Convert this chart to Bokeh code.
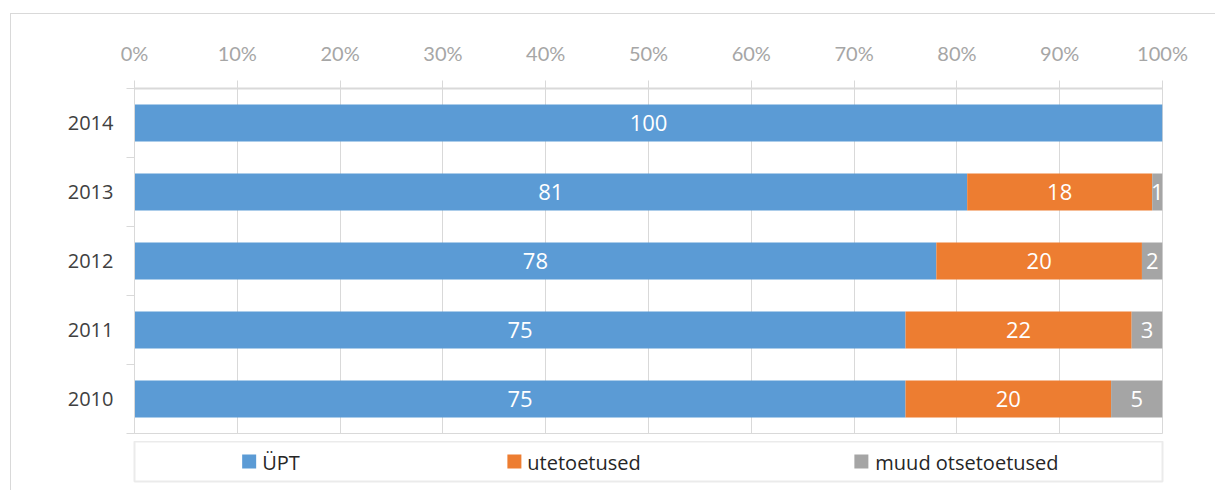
from bokeh.plotting import figure
from bokeh.layouts import column
from bokeh.models import (Range1d, FixedTicker, PrintfTickFormatter, ColumnDataSource)
from bokeh.core.properties import value
from bokeh.embed import file_html
from bokeh.resources import INLINE

# ---- data ----
years = ["2010", "2011", "2012", "2013", "2014"]
upt = [75, 75, 78, 81, 100]          # ÜPT
ute = [20, 22, 20, 18, 0]            # utetoetused
muud = [5, 3, 2, 1, 0]               # muud otsetoetused
series_names = ["ÜPT", "utetoetused", "muud otsetoetused"]
series_colors = ["#5B9BD5", "#ED7D31", "#A5A5A5"]
x_ticks = [0, 10, 20, 30, 40, 50, 60, 70, 80, 90, 100]

FONT = "Open Sans"
GRID = "#d9d9d9"

n = len(years)
ypos = [i + 0.5 for i in range(n)]          # category centres
ybounds = [float(i) for i in range(n + 1)]  # category boundaries

# ---------------- main chart ----------------
p = figure(width=1204, height=427, output_backend="svg", toolbar_location=None,
           x_range=Range1d(0, 100), y_range=Range1d(0, n),
           x_axis_location="above", min_border_left=123, min_border_top=74,
           min_border_right=53, min_border_bottom=8)
p.background_fill_color = "white"
p.border_fill_color = "white"
p.outline_line_color = GRID
p.outline_line_width = 1

series = [upt, ute, muud]
lefts = [0] * n
label_x, label_y, label_t = [], [], []
for vals, name, col in zip(series, series_names, series_colors):
    rights = [l + v for l, v in zip(lefts, vals)]
    src = ColumnDataSource(dict(y=ypos, left=lefts, right=rights))
    p.hbar(y="y", left="left", right="right", height=0.536, source=src,
           fill_color=col, line_color=None)
    for yc, l, v in zip(ypos, lefts, vals):
        if v > 0:
            label_x.append(l + v / 2)
            label_y.append(yc)
            label_t.append(str(v))
    lefts = rights

p.text(x=label_x, y=label_y, text=label_t, text_align="center", text_baseline="middle",
       text_color="white", text_font=value(FONT), text_font_size="22px")

xa = p.xaxis[0]
xa.ticker = FixedTicker(ticks=x_ticks)
xa.formatter = PrintfTickFormatter(format="%d%%")
xa.axis_line_color = GRID
xa.axis_line_width = 2
xa.major_tick_line_color = GRID
xa.major_tick_out = 8
xa.major_tick_in = 0
xa.minor_tick_line_color = None
xa.major_label_text_color = "#a6a6a6"
xa.major_label_text_font = "Lato"
xa.major_label_text_font_size = "20px"
xa.major_label_standoff = 16

ya = p.yaxis[0]
ya.ticker = FixedTicker(ticks=ypos, minor_ticks=ybounds)
ya.major_label_overrides = {yc: yr for yc, yr in zip(ypos, years)}
ya.axis_line_color = GRID
ya.major_tick_line_color = None
ya.minor_tick_line_color = GRID
ya.minor_tick_out = 8
ya.minor_tick_in = 0
ya.major_label_text_color = "#404040"
ya.major_label_text_font = FONT
ya.major_label_text_font_size = "20px"
ya.major_label_standoff = 13

p.xgrid.grid_line_color = GRID
p.ygrid.grid_line_color = None

# ---------------- legend box ----------------
leg = figure(width=1204, height=49, output_backend="svg", toolbar_location=None,
             x_range=Range1d(0, 1031), y_range=Range1d(0, 40),
             x_axis_type=None, y_axis_type=None,
             min_border_left=120, min_border_right=53, min_border_top=0, min_border_bottom=9)
leg.grid.grid_line_color = None
leg.outline_line_color = "#ebebeb"
leg.outline_line_width = 2
leg.background_fill_color = "white"
leg.border_fill_color = "white"

leg_glyph_x = [115, 381, 729]
leg_text_x = [128, 394, 743]
leg.rect(x=leg_glyph_x, y=[20] * 3, width=14, height=14, width_units="screen",
         height_units="screen", fill_color=series_colors, line_color=None)
leg.text(x=leg_text_x, y=[19] * 3, text=series_names, text_align="left", text_baseline="middle",
         text_color="#262626", text_font=value(FONT), text_font_size="20px")

layout = column(p, leg, spacing=0, margin=(13, 0, 0, 10),
                styles={"border-left": "1px solid #d9d9d9", "border-top": "1px solid #d9d9d9"})

open("out.html", "w").write(file_html(layout, INLINE))
